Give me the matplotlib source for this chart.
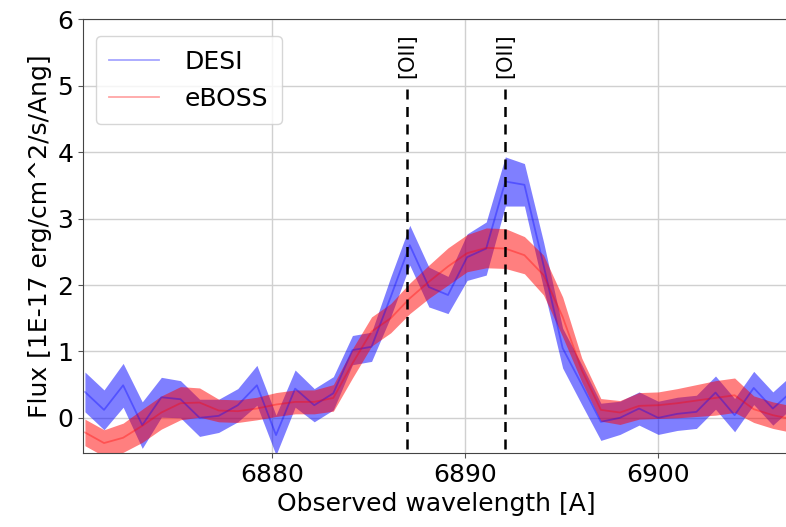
import matplotlib
matplotlib.use("Agg")
import matplotlib.pyplot as plt
import numpy as np

# Observed wavelength grid [A]
wavelength = [6870.30, 6871.29, 6872.28, 6873.27, 6874.26, 6875.25, 6876.24, 6877.23,
              6878.22, 6879.21, 6880.20, 6881.19, 6882.18, 6883.17, 6884.16, 6885.15,
              6886.14, 6887.13, 6888.12, 6889.11, 6890.10, 6891.09, 6892.08, 6893.07,
              6894.06, 6895.05, 6896.04, 6897.03, 6898.02, 6899.01, 6900.00, 6900.99,
              6901.98, 6902.97, 6903.96, 6904.95, 6905.94, 6906.93]

desi_flux = [0.39, 0.12, 0.49, -0.11, 0.31, 0.28, 0.00, 0.03, 0.19, 0.49,
             -0.26, 0.44, 0.19, 0.37, 1.02, 1.07, 1.82, 2.60, 1.97, 1.85,
             2.42, 2.55, 3.56, 3.51, 2.30, 1.05, 0.50, -0.06, 0.00, 0.14,
             0.00, 0.06, 0.09, 0.38, 0.04, 0.45, 0.14, 0.40]
desi_err = [0.30, 0.30, 0.33, 0.35, 0.30, 0.28, 0.28, 0.25, 0.25, 0.30,
            0.30, 0.28, 0.25, 0.25, 0.22, 0.22, 0.30, 0.30, 0.30, 0.28,
            0.35, 0.40, 0.37, 0.32, 0.35, 0.30, 0.30, 0.28, 0.25, 0.25,
            0.25, 0.25, 0.25, 0.25, 0.25, 0.25, 0.25, 0.25]

eboss_flux = [-0.22, -0.38, -0.30, -0.12, 0.08, 0.22, 0.23, 0.11, 0.10, 0.14,
              0.20, 0.24, 0.24, 0.30, 0.82, 1.30, 1.50, 1.80, 2.05, 2.28,
              2.48, 2.56, 2.55, 2.45, 2.15, 1.52, 0.72, 0.12, 0.08, 0.18,
              0.19, 0.22, 0.26, 0.30, 0.34, 0.13, 0.04, -0.02]
eboss_err = [0.20, 0.20, 0.22, 0.25, 0.25, 0.25, 0.22, 0.17, 0.17, 0.17,
             0.18, 0.18, 0.18, 0.20, 0.22, 0.22, 0.22, 0.23, 0.25, 0.28,
             0.28, 0.30, 0.30, 0.28, 0.30, 0.30, 0.18, 0.17, 0.18, 0.20,
             0.20, 0.22, 0.24, 0.26, 0.26, 0.20, 0.20, 0.20]

line_waves = [6886.98, 6892.07]
line_labels = ["[OII]", "[OII]"]

x_ticks = [6880, 6890, 6900]
y_ticks = [0, 1, 2, 3, 4, 5, 6]

plt.rcParams['font.family'] = ['DejaVu Sans']
fig = plt.figure(figsize=(7.86, 5.27), dpi=100)
ax = fig.add_axes([0.1056, 0.1404, 0.90, 0.8226])

w = np.array(wavelength)
df = np.array(desi_flux); de = np.array(desi_err)
ef = np.array(eboss_flux); ee = np.array(eboss_err)

ax.plot(w, df, color='blue', alpha=0.35, lw=1.3, label='DESI')
ax.fill_between(w, df - de, df + de, color='blue', alpha=0.5, lw=0)
ax.plot(w, ef, color='red', alpha=0.35, lw=1.3, label='eBOSS')
ax.fill_between(w, ef - ee, ef + ee, color='red', alpha=0.5, lw=0)

for lw_, lab in zip(line_waves, line_labels):
    ax.plot([lw_, lw_], [-1, 5.0], color='black', ls='--', lw=1.8, dashes=(4, 3))
    ax.text(lw_, 5.12, lab, rotation=90, ha='center', va='bottom', fontsize=15)

ax.set_xlim(6870.2, 6906.85)
ax.set_ylim(-0.53, 6.0)
ax.set_xticks(x_ticks)
ax.set_yticks(y_ticks)
ax.tick_params(labelsize=18, color='#555555')
for s in ax.spines.values():
    s.set_color('#444444')
ax.grid(True, color='#d0d0d0', lw=1)
ax.set_axisbelow(True)
ax.set_xlabel('Observed wavelength [A]', fontsize=18)
ax.set_ylabel('Flux [1E-17 erg/cm^2/s/Ang]', fontsize=18)
ax.legend(loc='upper left', fontsize=18, framealpha=0.8, borderpad=0.55,
          handletextpad=1.0, bbox_to_anchor=(0.0, 0.99))

fig.savefig('out.png', dpi=100)
